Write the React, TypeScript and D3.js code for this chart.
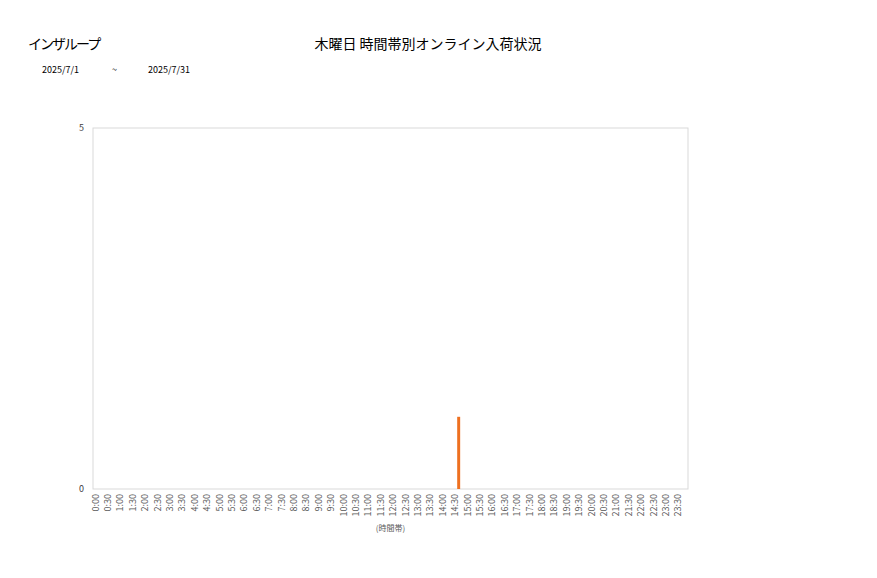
import React, { useEffect, useRef } from 'react'
import * as d3 from 'd3'

// time slots, every 30 minutes
const slots: string[] = []
for (let h = 0; h < 24; h++) {
  slots.push(`${h}:00`)
  slots.push(`${h}:30`)
}

// arrivals per slot (only 14:30 has one)
const arrivals: number[] = [
  0, 0, 0, 0, 0, 0, 0, 0, 0, 0, 0, 0,
  0, 0, 0, 0, 0, 0, 0, 0, 0, 0, 0, 0,
  0, 0, 0, 0, 0, 1, 0, 0, 0, 0, 0, 0,
  0, 0, 0, 0, 0, 0, 0, 0, 0, 0, 0, 0
]

const yTicks = [0, 5]

const shopName = 'インザループ'
const chartTitle = '木曜日 時間帯別オンライン入荷状況'
const dateFrom = '2025/7/1'
const dateTo = '2025/7/31'
const xAxisTitle = '(時間帯)'

const W = 877
const H = 578
const FONT = '"Noto Sans CJK JP", "Noto Sans", sans-serif'

const App: React.FC = () => {
  const svgRef = useRef<SVGSVGElement>(null)

  useEffect(() => {
    if (!svgRef.current) return
    const svg = d3.select(svgRef.current)
    svg.selectAll('*').remove()

    const margin = { top: 128, right: 189, bottom: 89, left: 93 }
    const width = W - margin.left - margin.right
    const height = H - margin.top - margin.bottom

    svg.append('rect').attr('width', W).attr('height', H).attr('fill', '#fff')

    const g = svg.append('g')
      .attr('transform', `translate(${margin.left},${margin.top})`)

    const xScale = d3.scaleBand<string>()
      .domain(slots)
      .range([0, width])
      .paddingInner(0.76)
      .paddingOuter(0.38)

    const yScale = d3.scaleLinear()
      .domain([0, 5])
      .range([height, 0])

    // plot border
    g.append('rect')
      .attr('width', width)
      .attr('height', height)
      .attr('fill', 'none')
      .attr('stroke', '#d9d9d9')
      .attr('stroke-width', 1)

    // bars
    g.selectAll('.bar')
      .data(slots.map((s, i) => ({ slot: s, value: arrivals[i] })))
      .enter()
      .append('rect')
      .attr('class', 'bar')
      .attr('x', d => xScale(d.slot) ?? 0)
      .attr('width', xScale.bandwidth())
      .attr('y', d => yScale(d.value))
      .attr('height', d => height - yScale(d.value))
      .attr('fill', '#ee7020')

    // x axis labels
    const xAxis = g.append('g')
      .attr('transform', `translate(0,${height})`)
      .call(d3.axisBottom(xScale).tickSize(0).tickPadding(0))
    xAxis.select('.domain').remove()
    xAxis.selectAll('text')
      .style('font-family', FONT)
      .style('font-size', '9px')
      .style('fill', '#595959')
      .attr('text-anchor', 'end')
      .attr('x', -5)
      .attr('y', -0.5)
      .attr('dy', 0)
      .attr('transform', 'rotate(-90)')

    // y axis labels
    const yAxis = g.append('g')
      .call(d3.axisLeft(yScale).tickValues(yTicks).tickFormat(d3.format('d')).tickSize(0).tickPadding(9))
    yAxis.select('.domain').remove()
    yAxis.selectAll('text')
      .style('font-family', FONT)
      .style('font-size', '9px')
      .style('fill', '#404040')

    // axis title
    svg.append('text')
      .attr('x', margin.left + width / 2)
      .attr('y', 531)
      .attr('text-anchor', 'middle')
      .style('font-family', FONT)
      .style('font-size', '8px')
      .style('fill', '#595959')
      .text(xAxisTitle)

    // titles
    svg.append('text')
      .attr('x', 28)
      .attr('y', 49)
      .style('font-family', FONT)
      .style('font-size', '14px')
      .style('letter-spacing', '-2px')
      .style('fill', '#000')
      .text(shopName)

    svg.append('text')
      .attr('x', 428)
      .attr('y', 49)
      .attr('text-anchor', 'middle')
      .style('font-family', FONT)
      .style('font-size', '14px')
      .style('fill', '#000')
      .text(chartTitle)

    const sub = [
      { x: 42, t: dateFrom },
      { x: 112, t: '~' },
      { x: 148, t: dateTo }
    ]
    svg.selectAll('.sub')
      .data(sub)
      .enter()
      .append('text')
      .attr('class', 'sub')
      .attr('x', d => d.x)
      .attr('y', 73)
      .style('font-family', FONT)
      .style('font-size', '9px')
      .style('fill', '#000')
      .text(d => d.t)
  }, [])

  return (
    <svg
      ref={svgRef}
      width={W}
      height={H}
      style={{ position: 'absolute', left: 0, top: 0, display: 'block' }}
    />
  )
}

export default App
